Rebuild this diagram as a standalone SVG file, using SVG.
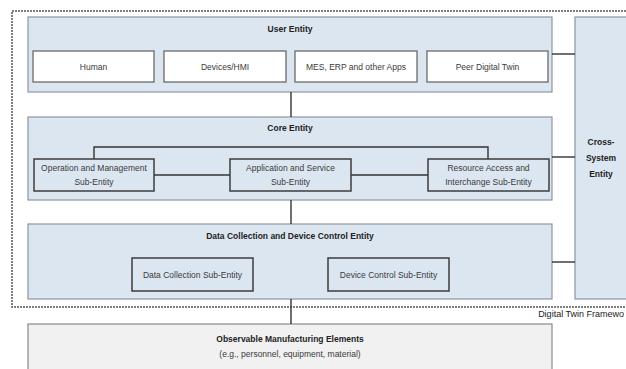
<svg xmlns="http://www.w3.org/2000/svg" width="626" height="369" viewBox="0 0 626 369">
<style>
text{font-family:"Liberation Sans",Arial,sans-serif;font-size:8.5px;fill:#3a3a3a;text-anchor:middle}
.t{font-weight:bold;fill:#222}
.ent{fill:#dce6f1;stroke:#8a96a3;stroke-width:1.2}
.w{fill:#fff;stroke:#6a6a6a;stroke-width:1.3}
.s{fill:#dce6f1;stroke:#3c3c3c;stroke-width:1.5}
.c{stroke:#333;stroke-width:1.4;fill:none}
</style>
<rect width="626" height="369" fill="#fff"/>
<g id="frame">
<rect x="12" y="11" width="640" height="296" fill="none" stroke="#555" stroke-width="1.5" stroke-dasharray="2,1"/>
<text x="624" y="317" style="text-anchor:end;font-size:9px;fill:#222">Digital Twin Framewo</text>
</g>
<g id="user-entity">
<rect class="ent" x="28" y="17" width="524" height="75"/>
<text class="t" x="290" y="32">User Entity</text>
</g>
<g id="cross-system">
<rect class="ent" x="575" y="17" width="60" height="282"/>
<text class="t" x="601" y="145">Cross-</text>
<text class="t" x="601" y="161">System</text>
<text class="t" x="601" y="177">Entity</text>
</g>
<g id="core-entity">
<rect class="ent" x="28" y="117" width="524" height="83"/>
<text class="t" x="290" y="131">Core Entity</text>
</g>
<g id="dc-entity">
<rect class="ent" x="28" y="224" width="524" height="75"/>
<text class="t" x="290" y="239">Data Collection and Device Control Entity</text>
</g>
<g id="observable">
<rect x="28" y="324" width="524" height="60" fill="#f1f1f1" stroke="#8a8a8a" stroke-width="1.2"/>
<text class="t" x="290" y="342">Observable Manufacturing Elements</text>
<text x="290" y="357">(e.g., personnel, equipment, material)</text>
</g>
<g id="connectors">
<line class="c" x1="291" y1="92" x2="291" y2="117"/>
<line class="c" x1="291" y1="200" x2="291" y2="224"/>
<line class="c" x1="291" y1="299" x2="291" y2="324"/>
<line class="c" x1="552" y1="54" x2="575" y2="54"/>
<line class="c" x1="552" y1="157" x2="575" y2="157"/>
<line class="c" x1="552" y1="262" x2="575" y2="262"/>
<polyline class="c" points="94,159 94,147 488,147 488,159"/>
<line class="c" x1="154" y1="175" x2="230" y2="175"/>
<line class="c" x1="351" y1="175" x2="428" y2="175"/>
</g>
<g id="human"><rect class="w" x="33" y="51" width="121" height="31"/><text x="93.5" y="69.5">Human</text></g>
<g id="devices-hmi"><rect class="w" x="164" y="51" width="122" height="31"/><text x="225" y="69.5">Devices/HMI</text></g>
<g id="mes-erp"><rect class="w" x="295" y="51" width="122" height="31"/><text x="356" y="69.5">MES, ERP and other Apps</text></g>
<g id="peer-dt"><rect class="w" x="427" y="51" width="121" height="31"/><text x="487.5" y="69.5">Peer Digital Twin</text></g>
<g id="op-mgmt"><rect class="s" x="34" y="159" width="120" height="32"/><text x="94" y="171">Operation and Management</text><text x="94" y="185">Sub-Entity</text></g>
<g id="app-service"><rect class="s" x="230" y="159" width="121" height="32"/><text x="290.5" y="171">Application and Service</text><text x="290.5" y="185">Sub-Entity</text></g>
<g id="resource-access"><rect class="s" x="428" y="159" width="121" height="32"/><text x="488.5" y="171">Resource Access and</text><text x="488.5" y="185">Interchange Sub-Entity</text></g>
<g id="dc-sub"><rect class="s" x="132" y="258" width="121" height="33"/><text x="192.5" y="277.5">Data Collection Sub-Entity</text></g>
<g id="device-control"><rect class="s" x="328" y="258" width="121" height="33"/><text x="388.5" y="277.5">Device Control Sub-Entity</text></g>
</svg>
